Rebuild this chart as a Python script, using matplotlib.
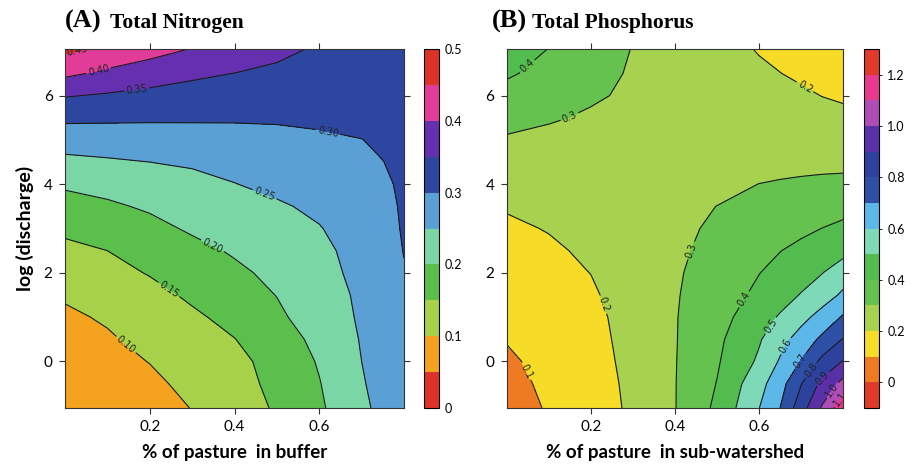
import matplotlib
matplotlib.use('Agg')
import numpy as np
import matplotlib.pyplot as plt

# ---- data ----
# (A) total nitrogen: rows are log(discharge), columns are % pasture in buffer
x_a = [0.0, 0.1, 0.2, 0.3, 0.4, 0.5, 0.6, 0.7, 0.75, 0.8]
y_a = [-1.05, -0.5, 0, 0.5, 1, 1.5, 2, 2.5, 3, 3.5, 4, 4.5, 5, 5.5, 6, 6.5, 7.05]
tn_rows = [
    [0.070, 0.075, 0.085, 0.101, 0.128, 0.155, 0.193, 0.239, 0.264, 0.290],
    [0.074, 0.080, 0.092, 0.110, 0.134, 0.161, 0.198, 0.245, 0.270, 0.291],
    [0.080, 0.088, 0.101, 0.118, 0.138, 0.166, 0.204, 0.250, 0.273, 0.292],
    [0.087, 0.096, 0.110, 0.130, 0.149, 0.178, 0.212, 0.253, 0.275, 0.293],
    [0.094, 0.104, 0.120, 0.142, 0.164, 0.192, 0.222, 0.256, 0.277, 0.294],
    [0.104, 0.116, 0.135, 0.158, 0.180, 0.201, 0.228, 0.258, 0.279, 0.296],
    [0.122, 0.134, 0.153, 0.172, 0.191, 0.211, 0.235, 0.262, 0.281, 0.298],
    [0.139, 0.150, 0.168, 0.187, 0.205, 0.222, 0.240, 0.265, 0.285, 0.301],
    [0.159, 0.170, 0.187, 0.206, 0.222, 0.236, 0.248, 0.270, 0.288, 0.303],
    [0.181, 0.193, 0.206, 0.219, 0.232, 0.245, 0.258, 0.274, 0.291, 0.304],
    [0.207, 0.215, 0.226, 0.236, 0.249, 0.260, 0.271, 0.281, 0.294, 0.306],
    [0.238, 0.244, 0.250, 0.256, 0.263, 0.270, 0.277, 0.287, 0.2995, 0.308],
    [0.272, 0.275, 0.279, 0.283, 0.287, 0.291, 0.295, 0.2995, 0.305, 0.310],
    [0.310, 0.308, 0.306, 0.305, 0.304, 0.304, 0.306, 0.309, 0.311, 0.313],
    [0.353, 0.345, 0.338, 0.333, 0.328, 0.324, 0.321, 0.319, 0.318, 0.318],
    [0.410, 0.390, 0.372, 0.358, 0.3495, 0.342, 0.335, 0.328, 0.325, 0.323],
    [0.460, 0.440, 0.420, 0.398, 0.380, 0.360, 0.345, 0.335, 0.332, 0.330],
]
tn_levels = [0.0, 0.05, 0.10, 0.15, 0.20, 0.25, 0.30, 0.35, 0.40, 0.45, 0.50]
tn_colors = ['#dd3228', '#f5a21e', '#a8d14a', '#5bbf4b', '#7bd6a6',
             '#5aa0d4', '#2d47a0', '#6530b0', '#e03c98', '#dd3228']
tn_ticks = [0, 0.1, 0.2, 0.3, 0.4, 0.5]
tn_ticklabels = ['0', '0.1', '0.2', '0.3', '0.4', '0.5']

# (B) total phosphorus: rows are log(discharge), columns are % pasture in sub-watershed
x_b = [0.0, 0.1, 0.2, 0.3, 0.4, 0.5, 0.6, 0.65, 0.7, 0.75, 0.8]
y_b = [-1.05, -0.5, 0, 0.5, 1, 1.5, 2, 2.5, 3, 3.5, 4, 4.5, 5, 5.5, 6, 6.5, 7.05]
tp_rows = [
    [0.060, 0.108, 0.158, 0.215, 0.297, 0.420, 0.598, 0.700, 0.855, 1.010, 1.170],
    [0.072, 0.118, 0.164, 0.218, 0.297, 0.403, 0.566, 0.660, 0.795, 0.925, 1.030],
    [0.085, 0.128, 0.170, 0.222, 0.296, 0.390, 0.515, 0.610, 0.705, 0.825, 0.905],
    [0.105, 0.140, 0.175, 0.226, 0.295, 0.380, 0.490, 0.565, 0.640, 0.720, 0.805],
    [0.125, 0.152, 0.180, 0.230, 0.295, 0.365, 0.455, 0.510, 0.570, 0.635, 0.710],
    [0.143, 0.165, 0.190, 0.236, 0.293, 0.350, 0.420, 0.460, 0.505, 0.555, 0.615],
    [0.160, 0.178, 0.201, 0.243, 0.290, 0.338, 0.398, 0.428, 0.460, 0.497, 0.555],
    [0.175, 0.191, 0.210, 0.245, 0.285, 0.325, 0.372, 0.398, 0.422, 0.445, 0.470],
    [0.190, 0.203, 0.220, 0.247, 0.278, 0.315, 0.348, 0.365, 0.381, 0.401, 0.420],
    [0.205, 0.213, 0.226, 0.245, 0.270, 0.301, 0.325, 0.336, 0.347, 0.358, 0.370],
    [0.225, 0.228, 0.232, 0.240, 0.252, 0.272, 0.301, 0.308, 0.313, 0.317, 0.320],
    [0.255, 0.250, 0.246, 0.244, 0.245, 0.252, 0.265, 0.271, 0.276, 0.279, 0.280],
    [0.290, 0.275, 0.262, 0.252, 0.246, 0.244, 0.245, 0.247, 0.249, 0.250, 0.250],
    [0.330, 0.310, 0.288, 0.267, 0.250, 0.238, 0.230, 0.227, 0.224, 0.221, 0.218],
    [0.372, 0.350, 0.312, 0.285, 0.258, 0.238, 0.222, 0.216, 0.210, 0.199, 0.190],
    [0.410, 0.374, 0.332, 0.290, 0.258, 0.232, 0.211, 0.201, 0.190, 0.180, 0.170],
    [0.450, 0.398, 0.345, 0.297, 0.260, 0.225, 0.196, 0.184, 0.172, 0.161, 0.150],
]
tp_levels = [-0.1, 0.0, 0.1, 0.2, 0.3, 0.4, 0.5, 0.6, 0.7, 0.8, 0.9, 1.0, 1.1, 1.2, 1.3]
tp_colors = ['#e03a2a', '#ee7a22', '#f6dc26', '#a6d24f', '#66c24e', '#52bc4e',
             '#7dd9b8', '#5cb8e8', '#2e4fa6', '#2c429e', '#5a30a8', '#b04cb8',
             '#e8398e', '#e03a2a']
tp_ticks = [0, 0.2, 0.4, 0.6, 0.8, 1.0, 1.2]
tp_ticklabels = ['0', '0.2', '0.4', '0.6', '0.8', '1.0', '1.2']

x_ticks = [0.2, 0.4, 0.6]
y_ticks = [0, 2, 4, 6]

# label spots for contour numbers
tn_label_pos = [(0.03, 6.98), (0.08, 6.55), (0.17, 6.1), (0.62, 5.15),
                (0.47, 3.75), (0.35, 2.65), (0.24, 1.55), (0.15, 0.45)]
tp_label_pos = [(0.045, 6.7), (0.15, 5.5), (0.71, 6.2), (0.235, 1.3),
                (0.04, -0.25), (0.44, 2.5), (0.565, 1.4), (0.625, 0.83),
                (0.665, 0.34), (0.70, 0.0), (0.727, -0.22), (0.75, -0.37),
                (0.767, -0.6), (0.785, -0.8)]

sans = 'Lato'
serif = 'Liberation Serif'

fig = plt.figure(figsize=(9.13, 4.71), dpi=100)


def panel(ax, cax, x, y, rows, levels, colors, fmt, label_pos, ticks, ticklabels, cb_ticklen):
    z = np.array(rows)
    cf = ax.contourf(x, y, z, levels=levels, colors=colors)
    cs = ax.contour(x, y, z, levels=levels, colors='#1a1a1a', linewidths=0.8)
    ax.clabel(cs, fmt=fmt, fontsize=7, inline=True, inline_spacing=2,
              manual=label_pos, colors='#222222')
    ax.set_xlim(0, 0.8)
    ax.set_ylim(-1.05, 7.05)
    ax.set_xticks(x_ticks)
    ax.set_xticklabels(['0.2', '0.4', '0.6'], fontfamily=sans, fontsize=11)
    ax.set_yticks(y_ticks)
    ax.set_yticklabels(['0', '2', '4', '6'], fontfamily=sans, fontsize=11)
    ax.tick_params(direction='out', length=4, width=0.8, top=True, right=True,
                   labeltop=False, labelright=False, color='#333333', pad=5)
    for s in ax.spines.values():
        s.set_linewidth(0.8)
        s.set_color('#333333')

    cb = fig.colorbar(cf, cax=cax)
    cb.set_ticks(ticks)
    cb.set_ticklabels(ticklabels)
    cb.ax.tick_params(length=cb_ticklen, width=0.6, labelsize=9, pad=4)
    for t in cb.ax.get_yticklabels():
        t.set_fontfamily(sans)
    cb.outline.set_linewidth(0.8)
    return cf


ax_a = fig.add_axes([0.0712, 0.1338, 0.3713, 0.762])
cax_a = fig.add_axes([0.4644, 0.1338, 0.0164, 0.762])
ax_b = fig.add_axes([0.5553, 0.1338, 0.368, 0.762])
cax_b = fig.add_axes([0.9463, 0.1338, 0.0164, 0.762])

panel(ax_a, cax_a, x_a, y_a, tn_rows, tn_levels, tn_colors, '%.2f',
      tn_label_pos, tn_ticks, tn_ticklabels, 0)
panel(ax_b, cax_b, x_b, y_b, tp_rows, tp_levels, tp_colors, '%.1f',
      tp_label_pos, tp_ticks, tp_ticklabels, 2)

ax_a.set_xlabel('% of pasture  in buffer', fontfamily=sans, fontweight='bold',
                fontsize=13.5, labelpad=7)
ax_b.set_xlabel('% of pasture  in sub-watershed', fontfamily=sans, fontweight='bold',
                fontsize=13.5, labelpad=7)
ax_a.set_ylabel('log (discharge)', fontfamily=sans, fontweight='bold',
                fontsize=14, labelpad=7)

# panel titles
fig.text(0.0712, 0.9406, '(A)', fontfamily=serif, fontweight='bold', fontsize=19, va='baseline')
fig.text(0.1205, 0.9406, 'Total Nitrogen', fontfamily=serif, fontweight='bold', fontsize=15.5, va='baseline')
fig.text(0.539, 0.9406, '(B)', fontfamily=serif, fontweight='bold', fontsize=19, va='baseline')
fig.text(0.583, 0.9406, 'Total Phosphorus', fontfamily=serif, fontweight='bold', fontsize=15.5, va='baseline')

plt.savefig('out.png', dpi=100)
